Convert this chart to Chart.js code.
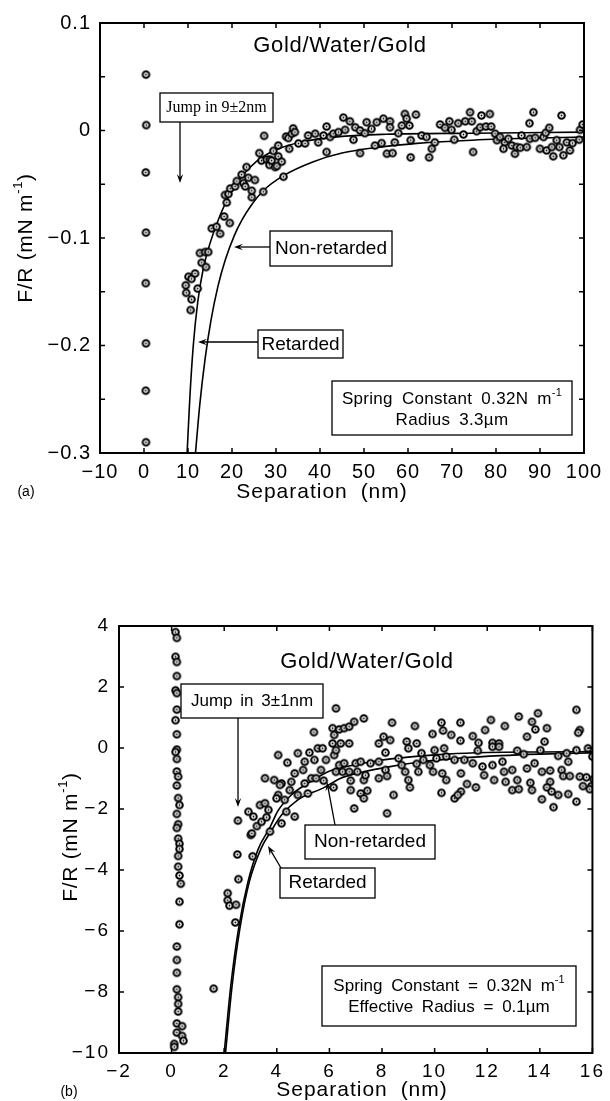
<!DOCTYPE html>
<html>
<head>
<meta charset="utf-8">
<script src="https://cdn.jsdelivr.net/npm/chart.js@4.4.1/dist/chart.umd.min.js"></script>
<style>
  html, body { margin: 0; padding: 0; background: #fff; }
  #wrap { position: relative; width: 610px; height: 1101px; overflow: hidden; }
  canvas { position: absolute; left: 0; }
  #chartA { top: 0; }
  #chartB { top: 560px; }
</style>
</head>
<body>
<div id="wrap">
  <canvas id="chartA" width="610" height="530"></canvas>
  <canvas id="chartB" width="610" height="541"></canvas>
</div>
<script>
// ---------- (a) 3.3 um sphere, separation in nm vs F/R in mN/m ----------
var topXTicks = [-10, 0, 10, 20, 30, 40, 50, 60, 70, 80, 90, 100];
var topYTicks = [0.1, 0, -0.1, -0.2, -0.3];
var topYMarks = [0.1, 0.05, 0, -0.05, -0.1, -0.15, -0.2, -0.25, -0.3];

var topMeasured = [
  [0.45,0.052],[0.5,0.005],[0.4,-0.039],[0.45,-0.095],[0.4,-0.142],[0.45,-0.198],[0.4,-0.242],[0.45,-0.29],
  [9.5,-0.144],[9.6,-0.151],[10.1,-0.136],[10.8,-0.138],[10.8,-0.157],[10.6,-0.167],[11.6,-0.133],[12.2,-0.147],
  [12.7,-0.114],[13.1,-0.123],[13.9,-0.113],[14.1,-0.127],[14.6,-0.113],[15.4,-0.091],[16.5,-0.0895],[17.3,-0.096],
  [18.2,-0.08],[19.5,-0.086],[18.8,-0.067],[18.4,-0.06],[19.2,-0.059],[19.6,-0.054],[20.7,-0.052],[21.1,-0.047],
  [22.2,-0.041],[22.6,-0.049],[23.0,-0.052],[23.3,-0.034],[23.7,-0.044],[24.5,-0.062],[24.5,-0.056],[25.2,-0.046],
  [26.2,-0.021],[26.7,-0.028],[27.1,-0.057],[27.3,-0.005],[27.9,-0.027],[28.5,-0.032],[28.6,-0.027],[29.0,-0.028],
  [29.4,-0.019],[29.8,-0.034],[30.2,-0.033],[30.5,-0.014],[30.5,-0.024],[31.3,-0.029],[31.7,-0.043],[32.3,-0.0056],
  [32.8,-0.007],[33.0,-0.017],[33.6,-0.003],[33.9,0.002],[34.3,-0.0015],[35.1,-0.012],[36.6,-0.012],[37.3,-0.0046],
  [38.9,-0.003],[39.6,-0.011],[40.8,-0.0046],[41.5,0.0037],[41.5,-0.020],[42.3,-0.006],[43.0,-0.003],[44.2,-0.0015],
  [45.3,0.012],[45.7,0.0006],[46.8,0.0086],[47.6,-0.0086],[48.0,0.003],[49.1,0],[49.1,-0.021],[50.2,-0.0025],
  [50.6,0.0077],[51.7,0.0015],[52.5,-0.014],[52.9,0.0077],[54.4,0.011],[55.9,0.0086],[55.9,0.003],[57.8,-0.0025],
  [58.6,0.0046],[59.3,0.0154],[59.7,0.011],[60.3,0.0046],[61.8,0.0148],[54.0,-0.0117],[57.0,-0.011],[55.2,-0.0216],
  [56.5,-0.021],[60.6,-0.025],[60.6,-0.009],[63.1,-0.0046],[64.2,-0.006],[65.4,-0.017],[64.8,-0.025],[66.1,-0.011],
  [67.3,0.0056],[68.4,0.0025],[69.4,0.0086],[69.9,0.0006],[70.5,-0.0086],[71.4,0.0068],[72.6,-0.0037],[73.0,0.0086],
  [74.1,0.017],[74.5,0.0086],[74.8,-0.020],[75.6,-0.0006],[76.4,0.003],[76.7,0.014],[77.7,0.0037],[78.6,0.0154],
  [78.9,0.0037],[79.8,-0.003],[80.2,-0.009],[80.9,-0.006],[82.0,-0.011],[81.7,-0.017],[82.8,-0.0077],[83.6,-0.014],
  [84.3,-0.0216],[84.7,-0.0154],[85.8,-0.0046],[85.5,-0.016],[87.0,-0.0154],[87.7,-0.0077],[88.5,0.017],[87.6,0.0068],
  [88.9,-0.0068],[90.0,-0.017],[90.8,-0.006],[91.3,-0.0021],[92.1,0.0025],[91.5,-0.0185],[92.7,-0.0154],[93.0,-0.024],
  [93.8,-0.009],[94.4,-0.0154],[94.9,0.014],[95.3,-0.023],[96.1,-0.011],[96.8,-0.0185],[97.4,-0.0117],[98.9,-0.0086],
  [99.1,0.0006],[99.7,0.0056]
];
var topRetarded = [
  [9.8,-0.3],[10.4,-0.25],[11.2,-0.2],[12.2,-0.16],[13.4,-0.13],[15,-0.105],[16.9,-0.083],[19.2,-0.062],
  [22,-0.044],[25.5,-0.029],[30,-0.018],[36,-0.0105],[45,-0.0055],[55,-0.0035],[75,-0.0025],[100,-0.0015]
];
var topNonRetarded = [
  [11.7,-0.3],[12.7,-0.254],[13.9,-0.212],[15.2,-0.177],[16.8,-0.145],[18.5,-0.12],[20.5,-0.098],[22.3,-0.083],
  [24.3,-0.07],[27.1,-0.056],[31.7,-0.042],[38.5,-0.029],[45,-0.021],[53.6,-0.0155],[62,-0.012],[72,-0.0095],
  [85,-0.0075],[100,-0.006]
];

// ---------- (b) effective radius 0.1 um ----------
var botXTicks = [-2, 0, 2, 4, 6, 8, 10, 12, 14, 16];
var botYTicks = [4, 2, 0, -2, -4, -6, -8, -10];

var botMeasured = [
  [0.15,3.80],[0.2,3.61],[0.15,2.99],[0.2,2.82],[0.2,2.36],[0.15,1.89],[0.2,1.80],[0.2,1.26],[0.15,0.91],[0.2,0.45],
  [0.2,-0.05],[0.15,-0.13],[0.2,-0.36],[0.2,-0.77],[0.25,-0.94],[0.2,-1.23],[0.25,-1.64],[0.3,-1.87],[0.2,-2.16],[0.25,-2.50],
  [0.2,-2.62],[0.25,-2.97],[0.3,-3.14],[0.3,-3.31],[0.25,-3.54],[0.25,-3.89],[0.3,-4.18],[0.35,-4.45],[0.3,-5.04],[0.3,-5.78],
  [0.2,-6.51],[0.2,-6.95],[0.2,-7.37],[0.2,-7.91],[0.25,-8.17],[0.25,-8.39],[0.25,-8.64],[0.2,-9.03],[0.4,-9.12],[0.2,-9.33],
  [0.4,-9.44],[0.45,-9.6],[0.1,-9.7],[0.1,-9.8],[1.6,-7.89],
  [2.13,-4.76],[2.13,-4.99],[2.2,-5.17],[2.45,-5.14],[2.42,-5.72],[2.54,-4.3],[2.5,-3.49],[3.08,-3.55],[3.01,-2.85],[2.52,-2.38],
  [2.92,-2.09],[3.11,-2.25],[3.05,-2.80],[3.24,-2.56],[3.42,-2.42],[3.36,-1.87],[3.55,-1.81],[3.68,-2.03],[3.61,-2.27],[3.74,-2.74],
  [4.18,-2.47],[4.36,-2.09],[4.68,-2.25],[3.55,-0.99],[3.90,-1.05],[4.18,-1.16],[4.12,-1.21],[4.49,-1.38],[4.55,-1.11],[4.05,-1.54],
  [3.99,-1.65],[4.30,-1.70],[4.80,-1.54],[5.18,-1.49],[5.06,-1.16],[5.31,-0.99],[5.49,-0.99],[5.78,-1.07],[6.16,-1.29],[4.05,-0.23],
  [4.40,-0.48],[4.68,-0.83],[4.8,-0.17],[5.0,-0.72],[5.06,-0.45],[5.24,-0.15],[5.43,-0.39],[5.56,-0.01],[5.74,-0.01],[5.68,-0.72],
  [5.87,-0.39],[6.12,0.15],[6.18,-0.23],[6.25,-0.07],[6.25,-0.78],[6.37,-0.56],[6.43,0.15],[6.5,-0.78],[6.56,-0.50],[6.75,0.15],
  [6.75,-0.78],[6.81,-1.07],[6.81,-1.38],[6.94,-1.98],[7.0,-0.50],[7.06,-0.78],[7.19,-0.45],[7.19,-1.49],[7.31,-1.05],[7.31,-1.65],
  [7.37,-0.89],[7.44,-1.40],[7.56,-0.50],[7.88,-0.45],[7.88,-0.99],[7.88,0.15],[8.06,0.37],[8.13,-0.15],[8.13,-0.72],[8.19,-0.92],
  [8.19,-2.14],[8.31,0.26],[8.38,0.83],[8.44,-1.54],[5.41,0.52],[6.12,0.65],[6.18,0.43],[6.25,1.30],[6.37,0.61],[6.56,0.65],
  [6.75,0.70],[6.94,0.86],[7.31,0.97],
  [15.39,1.25],[9.25,0.72],[10.26,0.83],[10.98,0.83],[12.14,0.92],[12.67,0.72],[13.2,1.03],[13.93,1.14],[13.7,0.86],[13.83,0.61],
  [14.27,0.65],[15.52,0.59],[9.92,0.46],[10.32,0.57],[10.63,0.43],[11.45,0.39],[11.92,0.59],[13.51,0.37],[14.18,0.21],[10.98,0.24],
  [11.67,0.17],[12.2,0.17],[12.45,0.15],[8.94,0.21],[9.0,-0.01],[9.32,0.15],[9.5,-0.17],[10.0,-0.07],[10.36,-0.01],[11.64,-0.09],
  [12.2,0.04],[12.45,0.04],[13.14,-0.09],[13.39,-0.2],[14.02,-0.07],[14.7,-0.26],[15.02,-0.17],[15.39,-0.07],[15.83,-0.01],[8.63,-0.34],
  [8.75,-0.56],[8.88,-0.78],[9.0,-1.05],[9.06,-1.29],[9.32,-0.52],[9.57,-0.39],[9.38,-0.78],[9.82,-0.56],[10.07,-0.34],[10.44,-0.28],
  [9.94,-0.78],[10.29,-0.83],[10.44,-1.05],[10.76,-0.39],[11.0,-0.83],[11.13,-0.39],[11.45,-0.5],[11.82,-0.61],[11.88,-0.89],[12.2,-0.56],
  [12.26,-1.05],[12.58,-0.45],[12.64,-0.78],[12.7,-1.11],[12.95,-0.72],[13.14,-1.05],[12.95,-1.38],[13.2,-1.35],[13.51,-0.67],[13.8,-0.5],
  [13.64,-1.14],[13.7,-1.38],[14.08,-0.78],[14.39,-0.74],[14.83,-0.72],[15.08,-0.45],[14.89,-0.92],[15.14,-0.92],[15.52,-0.94],[15.77,-0.96],
  [15.64,-1.25],[15.96,-1.25],[14.39,-1.11],[14.27,-1.29],[14.45,-1.43],[14.7,-1.54],[15.08,-1.51],[14.08,-1.68],[15.39,-1.76],[14.52,-1.94],
  [10.26,-1.47],[10.76,-1.65],[11.0,-1.43],[11.23,-1.18],[11.57,-1.29],[10.88,-1.54],[15.46,0.5],[16.0,-0.28],[15.9,-1.35],[16.05,-1.02]
];
var botRetarded = [
  [2.0,-10],[2.25,-7.8],[2.55,-5.9],[2.9,-4.4],[3.3,-3.3],[3.74,-2.6],[4.05,-2.05],[4.55,-1.54],[5.18,-1.16],
  [6.06,-0.74],[6.94,-0.56],[7.94,-0.4],[9,-0.3],[10.5,-0.2],[12,-0.15],[14,-0.13],[16,-0.12]
];
var botNonRetarded = [
  [2.05,-10],[2.3,-7.8],[2.6,-5.9],[2.95,-4.4],[3.4,-3.3],[3.8,-2.7],[4.18,-2.2],[4.8,-1.7],[5.81,-1.29],
  [6.43,-0.99],[7.31,-0.78],[8.31,-0.61],[9.5,-0.45],[11,-0.33],[12.5,-0.25],[14,-0.2],[16,-0.16]
];

// open circle with a dot in the middle, like the printed markers
function ringDot(r, lw) {
  var c = document.createElement('canvas');
  var s = Math.ceil(2 * r + lw + 2);
  c.width = s; c.height = s;
  var g = c.getContext('2d');
  g.fillStyle = '#fff'; g.strokeStyle = '#000'; g.lineWidth = lw;
  g.beginPath(); g.arc(s / 2, s / 2, r, 0, Math.PI * 2); g.fill(); g.stroke();
  g.fillStyle = '#000';
  g.beginPath(); g.arc(s / 2, s / 2, 0.9, 0, Math.PI * 2); g.fill();
  return c;
}
var marker = ringDot(3.3, 2.0);

function toXY(arr) { return arr.map(function (p) { return {x: p[0], y: p[1]}; }); }

function fmtNeg(v, digits) {
  var s = digits ? Math.abs(v).toFixed(digits) : String(Math.abs(v));
  if (v === 0) return '0';
  return (v < 0 ? '\u2212' : '') + s;
}

var SANS = '"Liberation Sans", Arial, Helvetica, sans-serif';
var SERIF = '"Liberation Serif", "Times New Roman", serif';

// draw a run of text pieces (some raised) centred on x
function drawRich(ctx, x, y, parts, opts) {
  opts = opts || {};
  ctx.letterSpacing = opts.ls || '0px';
  ctx.wordSpacing = opts.ws || '0px';
  ctx.textBaseline = 'middle';
  ctx.textAlign = 'left';
  var total = 0;
  parts.forEach(function (p) { ctx.font = p.f; total += ctx.measureText(p.t).width; });
  var cx = x - total / 2;
  parts.forEach(function (p) {
    ctx.font = p.f;
    ctx.fillText(p.t, cx, y + (p.dy || 0));
    cx += ctx.measureText(p.t).width;
  });
}

function drawArrow(ctx, x1, y1, x2, y2) {
  var ang = Math.atan2(y2 - y1, x2 - x1);
  var hl = 9, hw = 3.2;
  ctx.lineWidth = 1.3;
  ctx.beginPath(); ctx.moveTo(x1, y1); ctx.lineTo(x2 - Math.cos(ang) * 4, y2 - Math.sin(ang) * 4); ctx.stroke();
  ctx.beginPath();
  ctx.moveTo(x2, y2);
  ctx.lineTo(x2 - hl * Math.cos(ang) + hw * Math.sin(ang), y2 - hl * Math.sin(ang) - hw * Math.cos(ang));
  ctx.lineTo(x2 - 0.6 * hl * Math.cos(ang), y2 - 0.6 * hl * Math.sin(ang));
  ctx.lineTo(x2 - hl * Math.cos(ang) - hw * Math.sin(ang), y2 - hl * Math.sin(ang) + hw * Math.cos(ang));
  ctx.closePath(); ctx.fill();
}

function makeDecor(spec) {
  return {
    id: 'decor',
    beforeDraw: function (chart) {
      chart.ctx.letterSpacing = spec.tickSpacing;
    },
    afterDraw: function (chart) {
      var ctx = chart.ctx, a = chart.chartArea;
      var xs = chart.scales.x, ys = chart.scales.y;
      ctx.save();
      ctx.strokeStyle = '#000'; ctx.fillStyle = '#000';
      // inward tick marks on all four sides
      ctx.lineWidth = 1.5;
      ctx.beginPath();
      spec.xMarks.forEach(function (v) {
        var p = xs.getPixelForValue(v);
        ctx.moveTo(p, a.bottom); ctx.lineTo(p, a.bottom - 5);
        ctx.moveTo(p, a.top); ctx.lineTo(p, a.top + 5);
      });
      spec.yMarks.forEach(function (v) {
        var p = ys.getPixelForValue(v);
        ctx.moveTo(a.left, p); ctx.lineTo(a.left + 5, p);
        ctx.moveTo(a.right, p); ctx.lineTo(a.right - 5, p);
      });
      ctx.stroke();
      ctx.lineWidth = 2;
      ctx.strokeRect(a.left, a.top, a.right - a.left, a.bottom - a.top);

      // labelled boxes
      spec.boxes.forEach(function (b) {
        ctx.fillStyle = '#fff';
        ctx.fillRect(b.x, b.y, b.w, b.h);
        ctx.lineWidth = 1.3; ctx.strokeStyle = '#000';
        ctx.strokeRect(b.x, b.y, b.w, b.h);
      });
      ctx.fillStyle = '#000';
      spec.arrows.forEach(function (r) { drawArrow(ctx, r[0], r[1], r[2], r[3]); });
      spec.texts.forEach(function (t) { drawRich(ctx, t.x, t.y, t.parts, t); });

      // rotated y-axis title
      ctx.save();
      ctx.translate(spec.yTitle.x, spec.yTitle.y);
      ctx.rotate(-Math.PI / 2);
      drawRich(ctx, 0, 0, spec.yTitle.parts, spec.yTitle);
      ctx.restore();
      ctx.restore();
    }
  };
}

function yTitleParts(px) {
  return [
    {t: 'F/R (mN m', f: px + 'px ' + SANS},
    {t: '-1', f: Math.round(px * 0.62) + 'px ' + SANS, dy: -px * 0.38},
    {t: ')', f: px + 'px ' + SANS}
  ];
}

function makeChart(id, cfg) {
  var tickFont = {family: SANS, size: cfg.tickSize};
  return new Chart(document.getElementById(id), {
    type: 'scatter',
    data: {
      datasets: [
        {data: toXY(cfg.measured), pointStyle: marker, pointRadius: 4, pointHoverRadius: 4, showLine: false, order: 0},
        {data: toXY(cfg.retarded), showLine: true, pointRadius: 0, borderColor: '#000', borderWidth: 1.6,
         cubicInterpolationMode: 'monotone', order: 1},
        {data: toXY(cfg.nonRetarded), showLine: true, pointRadius: 0, borderColor: '#000', borderWidth: 1.6,
         cubicInterpolationMode: 'monotone', order: 1}
      ]
    },
    options: {
      responsive: false,
      animation: false,
      events: [],
      layout: {padding: cfg.padding},
      plugins: {legend: {display: false}, tooltip: {enabled: false}},
      scales: {
        x: {
          type: 'linear', min: cfg.xMin, max: cfg.xMax,
          afterBuildTicks: function (s) { s.ticks = cfg.xTicks.map(function (v) { return {value: v}; }); },
          afterFit: function (s) { s.height = cfg.xAxisH; },
          grid: {display: false, drawTicks: false},
          border: {display: false},
          ticks: {color: '#000', font: tickFont, padding: cfg.xPad, maxRotation: 0, autoSkip: false,
                  callback: function (v) { return fmtNeg(v, 0); }}
        },
        y: {
          type: 'linear', min: cfg.yMin, max: cfg.yMax,
          afterBuildTicks: function (s) { s.ticks = cfg.yTicks.map(function (v) { return {value: v}; }); },
          afterFit: function (s) { s.width = cfg.yAxisW; },
          grid: {display: false, drawTicks: false},
          border: {display: false},
          ticks: {color: '#000', font: tickFont, padding: cfg.yPad, autoSkip: false,
                  callback: function (v) { return fmtNeg(v, cfg.yDigits); }}
        }
      }
    },
    plugins: [makeDecor(cfg.decor)]
  });
}

makeChart('chartA', {
  measured: topMeasured, retarded: topRetarded, nonRetarded: topNonRetarded,
  xMin: -10, xMax: 100, yMin: -0.3, yMax: 0.1, xTicks: topXTicks, yTicks: topYTicks, yDigits: 1,
  padding: {left: 0, right: 26, top: 23, bottom: 0}, xAxisH: 77, yAxisW: 100,
  tickSize: 20, xPad: 7, yPad: 9,
  decor: {
    tickSpacing: '1px',
    xMarks: topXTicks, yMarks: topYMarks,
    boxes: [
      {x: 160, y: 93, w: 113, h: 29},
      {x: 270, y: 231, w: 122, h: 35},
      {x: 258, y: 330, w: 85, h: 28},
      {x: 332, y: 381, w: 240, h: 54}
    ],
    arrows: [[180, 122, 180, 183], [270, 247, 234, 247], [258, 342, 198, 342]],
    texts: [
      {x: 340, y: 46, ls: '0.7px', parts: [{t: 'Gold/Water/Gold', f: '22px ' + SANS}]},
      {x: 216.5, y: 108, parts: [{t: 'Jump in 9\u00b12nm', f: '16px ' + SERIF}]},
      {x: 331, y: 249, parts: [{t: 'Non-retarded', f: '19px ' + SANS}]},
      {x: 300.5, y: 344.5, parts: [{t: 'Retarded', f: '19px ' + SANS}]},
      {x: 452, y: 399, ws: '4px', ls: '0.3px', parts: [
        {t: 'Spring Constant 0.32N m', f: '17px ' + SANS},
        {t: '-1', f: '11px ' + SANS, dy: -6}]},
      {x: 452, y: 420, ws: '4px', ls: '0.3px', parts: [{t: 'Radius 3.3\u00b5m', f: '17px ' + SANS}]},
      {x: 322, y: 492, ls: '1px', ws: '6px', parts: [{t: 'Separation (nm)', f: '21px ' + SANS}]},
      {x: 26, y: 492, parts: [{t: '(a)', f: '14px ' + SANS}]}
    ],
    yTitle: {x: 26, y: 238, ls: '0.7px', parts: yTitleParts(21)}
  }
});

makeChart('chartB', {
  measured: botMeasured, retarded: botRetarded, nonRetarded: botNonRetarded,
  xMin: -2, xMax: 16, yMin: -10, yMax: 4, xTicks: botXTicks, yTicks: botYTicks, yDigits: 0,
  padding: {left: 0, right: 12, top: 66, bottom: 0}, xAxisH: 48, yAxisW: 119,
  tickSize: 19, xPad: 7, yPad: 9,
  decor: {
    tickSpacing: '2px',
    xMarks: botXTicks, yMarks: botYTicks,
    boxes: [
      {x: 181, y: 124, w: 142, h: 34},
      {x: 305, y: 265, w: 130, h: 34},
      {x: 280, y: 308, w: 95, h: 30},
      {x: 322, y: 406, w: 254, h: 60}
    ],
    arrows: [[238, 158, 238, 247], [335, 265, 327, 222], [281, 308, 268, 286]],
    texts: [
      {x: 367, y: 102, ls: '0.7px', parts: [{t: 'Gold/Water/Gold', f: '22px ' + SANS}]},
      {x: 252, y: 141, ws: '3px', parts: [{t: 'Jump in 3\u00b11nm', f: '17px ' + SANS}]},
      {x: 370, y: 282, parts: [{t: 'Non-retarded', f: '19px ' + SANS}]},
      {x: 327.5, y: 323, parts: [{t: 'Retarded', f: '19px ' + SANS}]},
      {x: 449, y: 426, ws: '4px', parts: [
        {t: 'Spring Constant = 0.32N m', f: '17px ' + SANS},
        {t: '-1', f: '11px ' + SANS, dy: -6}]},
      {x: 449, y: 447, ws: '4px', parts: [{t: 'Effective Radius = 0.1\u00b5m', f: '17px ' + SANS}]},
      {x: 362, y: 530, ls: '1px', ws: '6px', parts: [{t: 'Separation (nm)', f: '21px ' + SANS}]},
      {x: 69, y: 532, parts: [{t: '(b)', f: '14px ' + SANS}]}
    ],
    yTitle: {x: 71, y: 277, ls: '0.7px', parts: yTitleParts(21)}
  }
});
</script>
</body>
</html>
